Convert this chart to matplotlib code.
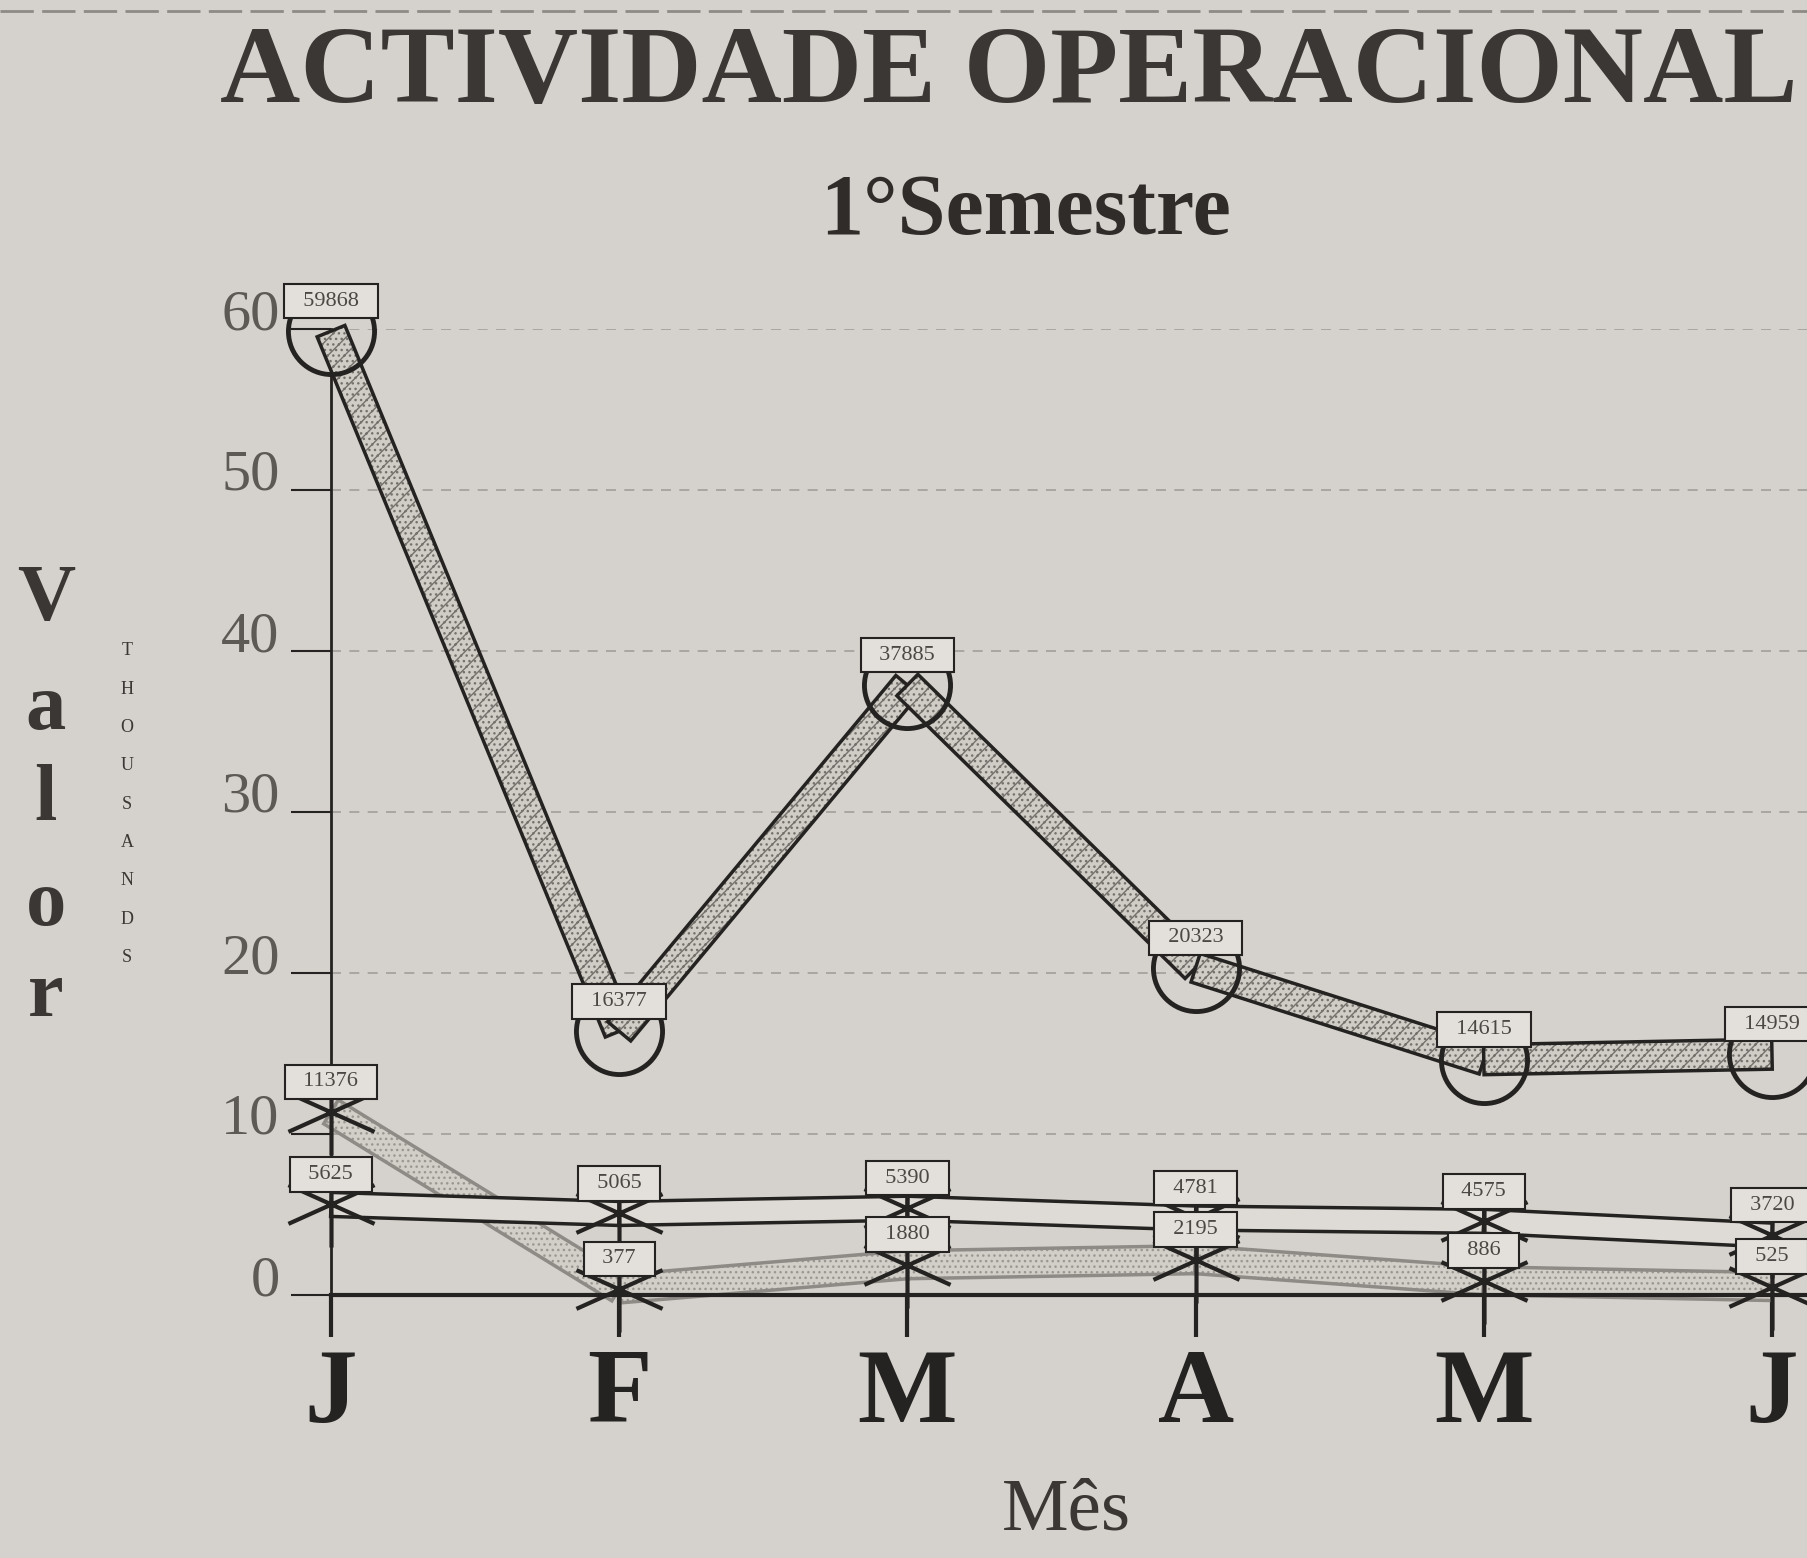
import numpy as np
import matplotlib
matplotlib.use("Agg")
import matplotlib.pyplot as plt
from matplotlib.patches import Polygon
from matplotlib.path import Path
from matplotlib.lines import Line2D

months = ["J", "F", "M", "A", "M", "J"]
serie_grande = [59868, 16377, 37885, 20323, 14615, 14959]
serie_media = [5625, 5065, 5390, 4781, 4575, 3720]
serie_baixa = [11376, 377, 1880, 2195, 886, 525]
yticks = [0, 10, 20, 30, 40, 50, 60]

paper = "#d5d2cd"
ink = "#252321"
serif = ["Liberation Serif", "DejaVu Serif"]

plt.rcParams["font.family"] = serif
plt.rcParams["hatch.linewidth"] = 1.0

fig = plt.figure(figsize=(18.08, 15.58), dpi=100, facecolor=paper)
ax = fig.add_axes([331 / 1808, 263 / 1558, 1 - 331 / 1808, 966 / 1558])
ax.set_facecolor(paper)
ax.set_xlim(0, 5.125)
ax.set_ylim(0, 60)

x = np.arange(len(months))


def ribbon(xs, ys, width_px, face, hatch, hatch_col, edge, z):
    # faixa de largura constante (em pixeis) ao longo da linha
    disp = ax.transData.transform(np.column_stack([xs, ys]))
    inv = ax.transData.inverted()
    for i in range(len(xs) - 1):
        p0, p1 = disp[i], disp[i + 1]
        d = p1 - p0
        n = np.array([-d[1], d[0]]) / np.hypot(*d) * width_px / 2
        pts = inv.transform(np.array([p0 + n, p1 + n, p1 - n, p0 - n]))
        ax.add_patch(Polygon(pts, closed=True, facecolor=face, hatch=hatch,
                             edgecolor=hatch_col, lw=0, zorder=z, clip_on=False))
        ax.add_patch(Polygon(pts, closed=True, fill=False, edgecolor=edge,
                             lw=2.5, zorder=z, clip_on=False))


yb = np.array(serie_baixa) / 1000
ym = np.array(serie_media) / 1000
yg = np.array(serie_grande) / 1000

ribbon(x, yb, 28, "#d2cfc9", "...", "#9a9691", "#8e8a85", 2)
ribbon(x, ym, 24, "#dedbd6", None, ink, ink, 3)
ribbon(x, yg, 30, "#d0ccc6", "...//", "#75716c", ink, 4)

star = Path([(-1, -0.45), (1, 0.45), (-1, 0.45), (1, -0.45), (0, 0.45), (0, -1)],
            [Path.MOVETO, Path.LINETO, Path.MOVETO, Path.LINETO, Path.MOVETO, Path.LINETO])

ax.plot(x, yg, linestyle="none", marker="o", markersize=62, mfc="none",
        mec=ink, mew=3.5, zorder=5, clip_on=False)
for ys in (ym, yb):
    ax.plot(x, ys, linestyle="none", marker=star, markersize=62, mec=ink,
            mew=3, zorder=5, clip_on=False)

for serie in (serie_grande, serie_media, serie_baixa):
    for xi, v in zip(x, serie):
        ax.annotate(f"  {v}  ", (xi, v / 1000), xytext=(0, 30),
                    textcoords="offset pixels", ha="center", va="center",
                    fontsize=16, color="#4a4744", zorder=6,
                    bbox=dict(boxstyle="square,pad=0.35", fc="#e3e0db",
                              ec=ink, lw=1.5),
                    annotation_clip=False)

ax.set_yticks(yticks)
ax.set_yticklabels([str(t) for t in yticks], fontsize=42, color="#5d5a56")
for lab in ax.get_yticklabels():
    lab.set_va("baseline")
ax.tick_params(axis="y", length=29, width=1.5, color=ink, pad=8)
ax.yaxis.grid(True, linestyle=(0, (6, 5)), color="#a29e99", lw=1.2)
ax.set_axisbelow(True)

ax.set_xticks(x)
ax.set_xticklabels(months, fontsize=76, fontweight="bold", color=ink)
ax.tick_params(axis="x", length=30, width=3, color=ink, pad=8)

for s in ("top", "right"):
    ax.spines[s].set_visible(False)
ax.spines["left"].set_color(ink)
ax.spines["left"].set_linewidth(2)
ax.spines["bottom"].set_color(ink)
ax.spines["bottom"].set_linewidth(3)

fig.text(0.558, 0.952, "ACTIVIDADE OPERACIONAL", ha="center", va="center",
         fontsize=80, fontweight="bold", color="#3a3734")
fig.text(0.567, 0.863, "1°Semestre", ha="center", va="center",
         fontsize=62, fontweight="bold", color="#2f2c2a")
fig.text(0.590, 0.03, "Mês", ha="center", va="center", fontsize=54,
         color="#3a3734")

for letra, yy in zip("Valor", [600, 709, 801, 905, 997]):
    fig.text(46 / 1808, 1 - yy / 1558, letra, ha="center", va="center",
             fontsize=58, fontweight="bold", color="#3a3734")
for i, letra in enumerate("THOUSANDS"):
    fig.text(127 / 1808, 1 - (651 + i * 38.3) / 1558, letra, ha="center",
             va="center", fontsize=13, color="#3a3734")

fig.add_artist(Line2D([0, 1], [0.993, 0.993], color="#8e8a85", lw=2,
                      linestyle=(0, (12, 3))))

fig.savefig("out.png", dpi=100, facecolor=paper)
